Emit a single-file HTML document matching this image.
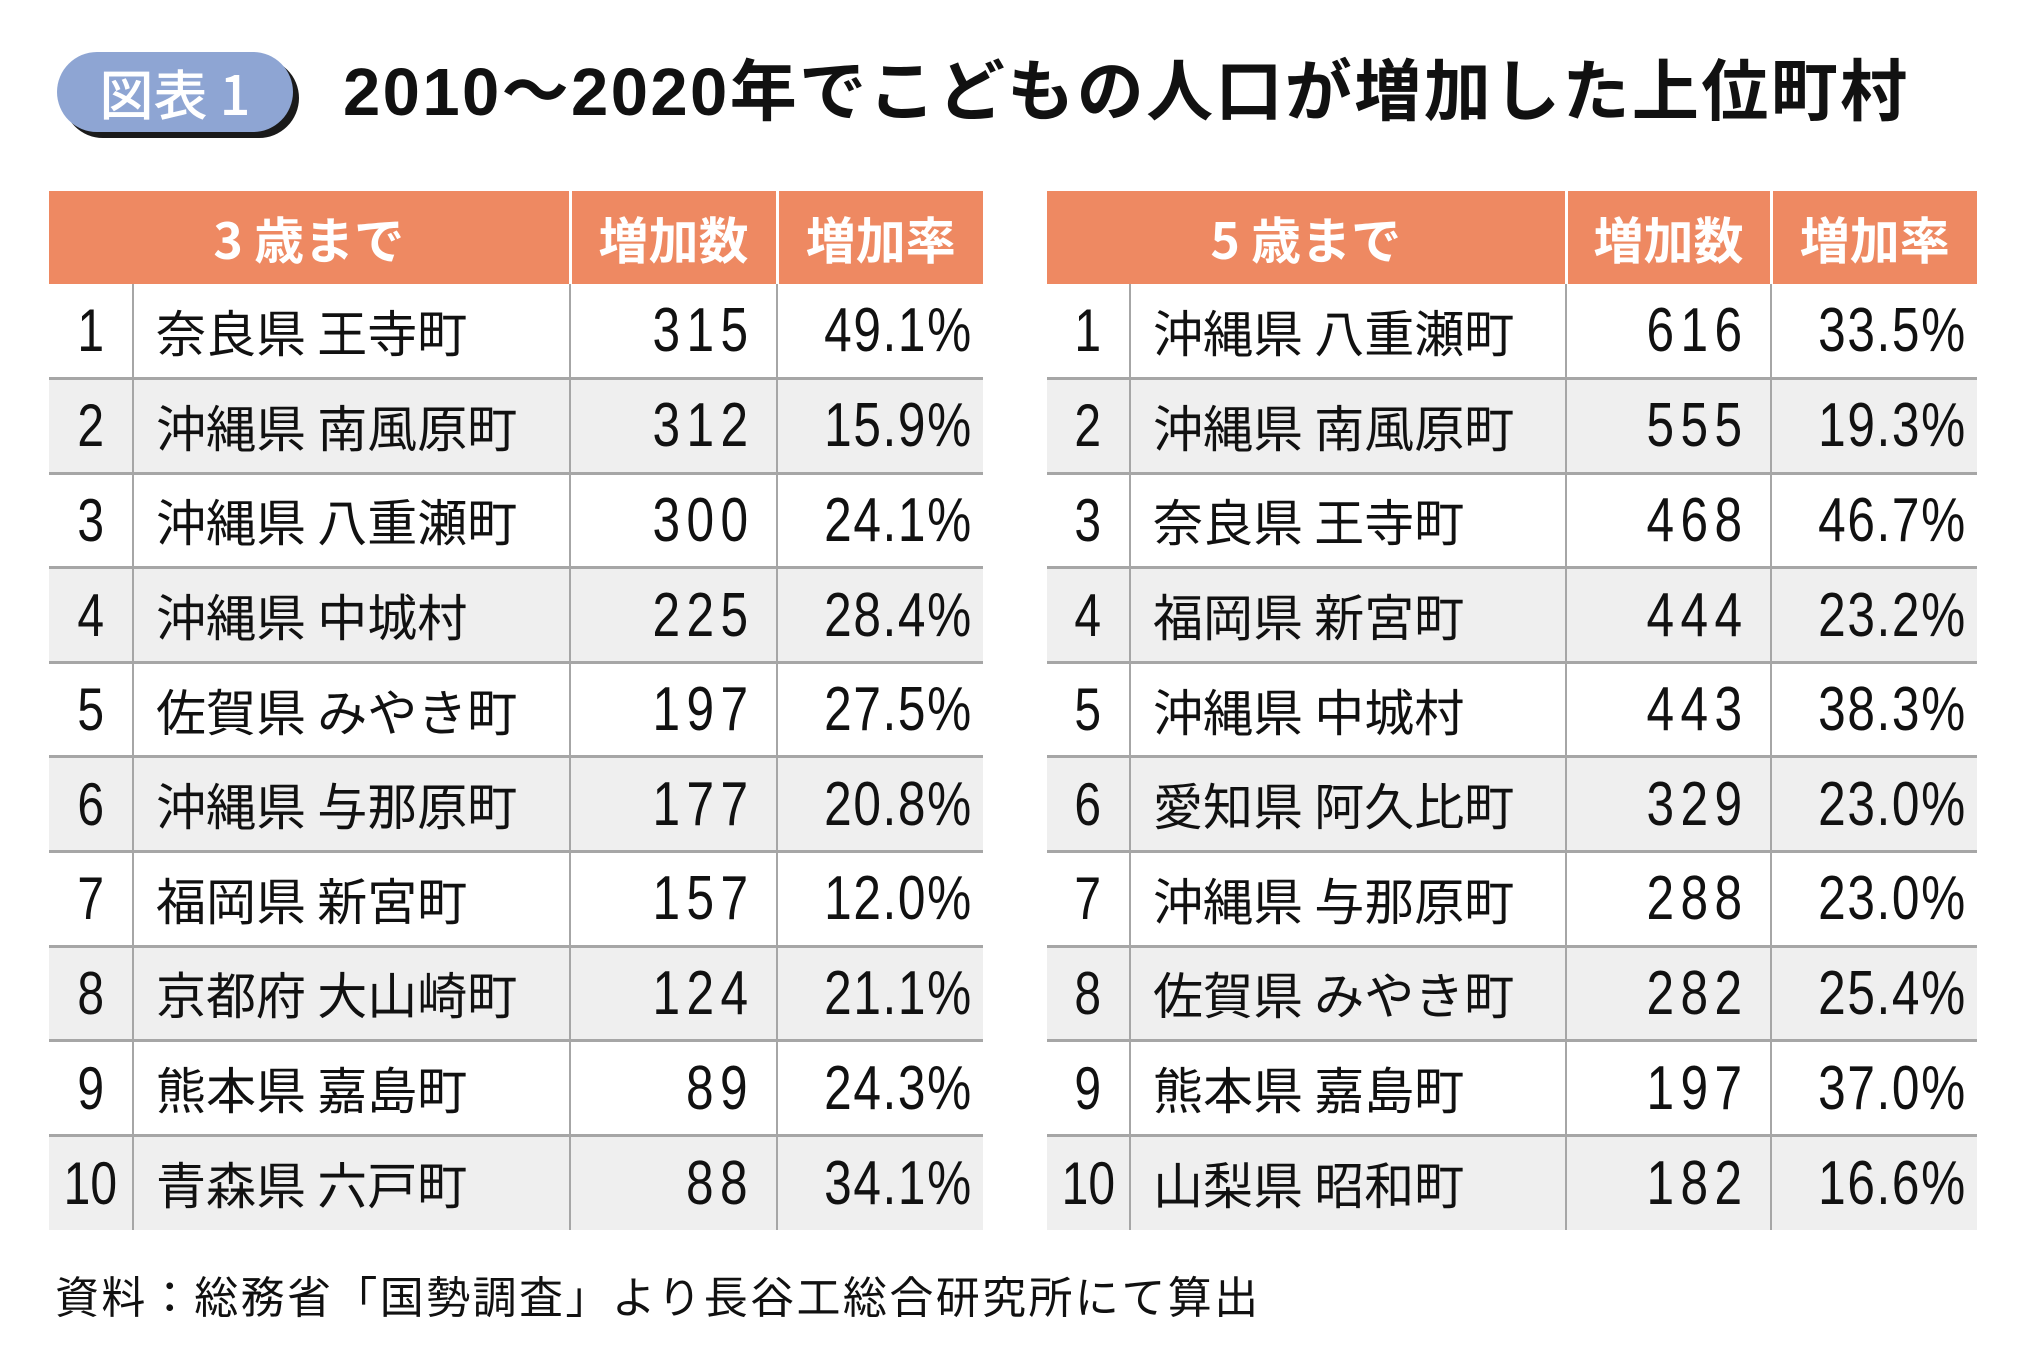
<!DOCTYPE html>
<html><head><meta charset="utf-8"><style>
*{margin:0;padding:0;box-sizing:border-box}
body{width:2029px;height:1371px;background:#fff;position:relative;overflow:hidden;font-family:"Liberation Sans","Noto Sans CJK JP",sans-serif;color:#111}
.badge{position:absolute;left:57px;top:52px;width:236px;height:80px;border-radius:40px;background:#8ea5d3;box-shadow:6px 6px 0 #1a1a1a;color:#fff;font-size:54px;line-height:80px;text-align:center;font-family:"Noto Sans CJK JP",sans-serif;font-weight:500}
.title{position:absolute;left:343px;top:48px;font-size:67px;line-height:90px;font-weight:bold;font-family:"Liberation Sans","Noto Sans CJK JP",sans-serif;white-space:nowrap;letter-spacing:2.4px}
table{position:absolute;top:191px;border-collapse:collapse;table-layout:fixed}
td,th{height:94.6px;padding:0;white-space:nowrap;font-family:"Liberation Sans","Noto Sans CJK JP",sans-serif;font-weight:normal}
th{height:93px;background:#ee8962;color:#fff;font-size:50px;font-weight:bold;border-left:3px solid #fff;font-family:"Noto Sans CJK JP",sans-serif}
th:first-child{border-left:none}
td{font-size:52px;border-top:3px solid #a6a6a6;border-left:2px solid #a6a6a6}
td:first-child{border-left:none;text-align:center}
tr.g td{background:#efefef}
td.n{text-align:left;padding-left:22px;font-family:"Noto Sans CJK JP",sans-serif;font-size:50px}
td.c{text-align:right;padding-right:30px}
td.r{text-align:right;padding-right:12px}
.d{display:inline-block;font-size:62px;transform:scaleX(0.8);transform-origin:right center;letter-spacing:8px;margin-right:-8px}
.rk{display:inline-block;font-size:60px;transform:scaleX(0.8);transform-origin:center}
td.r .d{letter-spacing:2px;margin-right:-2px}
tr:nth-child(2) td{border-top:none}
.foot{position:absolute;left:55px;top:1266px;font-size:44px;line-height:56px;font-family:"Noto Sans CJK JP",sans-serif;white-space:nowrap;letter-spacing:2.4px}
</style></head><body>
<div class="badge">図表 1</div>
<div class="title">2010～2020年でこどもの人口が増加した上位町村</div>

<table style="left:49px;width:934px">
<colgroup><col style="width:84px"><col style="width:437px"><col style="width:207px"><col style="width:206px"></colgroup>
<tr><th colspan="2">3 歳まで</th><th>増加数</th><th>増加率</th></tr>
<tr><td><span class="rk">1</span></td><td class="n">奈良県 王寺町</td><td class="c"><span class="d">315</span></td><td class="r"><span class="d">49.1%</span></td></tr>
<tr class="g"><td><span class="rk">2</span></td><td class="n">沖縄県 南風原町</td><td class="c"><span class="d">312</span></td><td class="r"><span class="d">15.9%</span></td></tr>
<tr><td><span class="rk">3</span></td><td class="n">沖縄県 八重瀬町</td><td class="c"><span class="d">300</span></td><td class="r"><span class="d">24.1%</span></td></tr>
<tr class="g"><td><span class="rk">4</span></td><td class="n">沖縄県 中城村</td><td class="c"><span class="d">225</span></td><td class="r"><span class="d">28.4%</span></td></tr>
<tr><td><span class="rk">5</span></td><td class="n">佐賀県 みやき町</td><td class="c"><span class="d">197</span></td><td class="r"><span class="d">27.5%</span></td></tr>
<tr class="g"><td><span class="rk">6</span></td><td class="n">沖縄県 与那原町</td><td class="c"><span class="d">177</span></td><td class="r"><span class="d">20.8%</span></td></tr>
<tr><td><span class="rk">7</span></td><td class="n">福岡県 新宮町</td><td class="c"><span class="d">157</span></td><td class="r"><span class="d">12.0%</span></td></tr>
<tr class="g"><td><span class="rk">8</span></td><td class="n">京都府 大山崎町</td><td class="c"><span class="d">124</span></td><td class="r"><span class="d">21.1%</span></td></tr>
<tr><td><span class="rk">9</span></td><td class="n">熊本県 嘉島町</td><td class="c"><span class="d">89</span></td><td class="r"><span class="d">24.3%</span></td></tr>
<tr class="g"><td><span class="rk">10</span></td><td class="n">青森県 六戸町</td><td class="c"><span class="d">88</span></td><td class="r"><span class="d">34.1%</span></td></tr>
</table>

<table style="left:1047px;width:930px">
<colgroup><col style="width:83px"><col style="width:436px"><col style="width:205px"><col style="width:206px"></colgroup>
<tr><th colspan="2">5 歳まで</th><th>増加数</th><th>増加率</th></tr>
<tr><td><span class="rk">1</span></td><td class="n">沖縄県 八重瀬町</td><td class="c"><span class="d">616</span></td><td class="r"><span class="d">33.5%</span></td></tr>
<tr class="g"><td><span class="rk">2</span></td><td class="n">沖縄県 南風原町</td><td class="c"><span class="d">555</span></td><td class="r"><span class="d">19.3%</span></td></tr>
<tr><td><span class="rk">3</span></td><td class="n">奈良県 王寺町</td><td class="c"><span class="d">468</span></td><td class="r"><span class="d">46.7%</span></td></tr>
<tr class="g"><td><span class="rk">4</span></td><td class="n">福岡県 新宮町</td><td class="c"><span class="d">444</span></td><td class="r"><span class="d">23.2%</span></td></tr>
<tr><td><span class="rk">5</span></td><td class="n">沖縄県 中城村</td><td class="c"><span class="d">443</span></td><td class="r"><span class="d">38.3%</span></td></tr>
<tr class="g"><td><span class="rk">6</span></td><td class="n">愛知県 阿久比町</td><td class="c"><span class="d">329</span></td><td class="r"><span class="d">23.0%</span></td></tr>
<tr><td><span class="rk">7</span></td><td class="n">沖縄県 与那原町</td><td class="c"><span class="d">288</span></td><td class="r"><span class="d">23.0%</span></td></tr>
<tr class="g"><td><span class="rk">8</span></td><td class="n">佐賀県 みやき町</td><td class="c"><span class="d">282</span></td><td class="r"><span class="d">25.4%</span></td></tr>
<tr><td><span class="rk">9</span></td><td class="n">熊本県 嘉島町</td><td class="c"><span class="d">197</span></td><td class="r"><span class="d">37.0%</span></td></tr>
<tr class="g"><td><span class="rk">10</span></td><td class="n">山梨県 昭和町</td><td class="c"><span class="d">182</span></td><td class="r"><span class="d">16.6%</span></td></tr>
</table>

<div class="foot">資料：総務省「国勢調査」より長谷工総合研究所にて算出</div>
</body></html>
